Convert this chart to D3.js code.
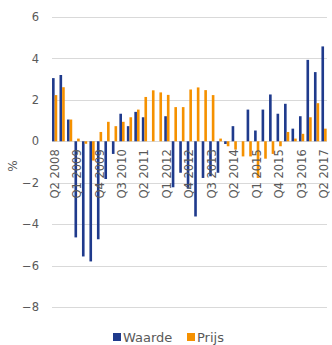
<!DOCTYPE html>
<html>
<head>
<meta charset="utf-8">
<script src="https://cdn.jsdelivr.net/npm/d3@7"></script>
<style>
  html, body { margin: 0; padding: 0; background: #fff; }
  svg { display: block; font-family: "DejaVu Sans", sans-serif; }
</style>
</head>
<body>
<svg id="chart" width="332" height="345"></svg>
<script>
// Quarterly change (%), Q2 2008 – Q2 2017
const quarters = [
  "Q2 2008","Q3 2008","Q4 2008","Q1 2009","Q2 2009","Q3 2009","Q4 2009",
  "Q1 2010","Q2 2010","Q3 2010","Q4 2010","Q1 2011","Q2 2011","Q3 2011",
  "Q4 2011","Q1 2012","Q2 2012","Q3 2012","Q4 2012","Q1 2013","Q2 2013",
  "Q3 2013","Q4 2013","Q1 2014","Q2 2014","Q3 2014","Q4 2014","Q1 2015",
  "Q2 2015","Q3 2015","Q4 2015","Q1 2016","Q2 2016","Q3 2016","Q4 2016",
  "Q1 2017","Q2 2017"
];
const waarde = [
  3.05, 3.2, 1.05, -4.64, -5.56, -5.8, -4.73,
  -1.82, -0.61, 1.33, 0.73, 1.42, 1.16, 0,
  0, 1.21, -2.22, -1.52, -2.29, -3.63, -1.77,
  -1.69, -1.52, -0.13, 0.73, 0, 1.53, 0.52,
  1.53, 2.26, 1.33, 1.81, 0.61, 1.21, 3.93,
  3.34, 4.58
];
const prijs = [
  2.23, 2.61, 1.05, 0.13, -0.12, -0.93, 0.45,
  0.94, 0.73, 0.94, 1.16, 1.53, 2.14, 2.46,
  2.36, 2.24, 1.65, 1.65, 2.5, 2.6, 2.47,
  2.23, 0.13, -0.24, -0.4, -0.73, -0.73, -1.77,
  -0.84, -0.61, -0.24, 0.45, 0.13, 0.36, 1.16,
  1.84, 0.61
];
const yTicks = [-8, -6, -4, -2, 0, 2, 4, 6];
const seriesNames = ["Waarde", "Prijs"];
const colors = { Waarde: "#1f3a8c", Prijs: "#f59100" };

const rows = quarters.map((q, i) => ({ q, Waarde: waarde[i], Prijs: prijs[i] }));

const svg = d3.select("#chart");
const gridLeft = 52, gridRight = 327;

const x = d3.scaleBand()
  .domain(quarters)
  .range([50.9, 327.8])
  .paddingInner(0.3)
  .paddingOuter(0.15);

const xs = d3.scaleBand()
  .domain(seriesNames)
  .range([0, x.bandwidth()]);

const y = d3.scaleLinear().domain([-8, 6]).range([307, 17]);

// horizontal gridlines
svg.append("g").selectAll("line")
  .data(yTicks)
  .join("line")
  .attr("x1", gridLeft).attr("x2", gridRight)
  .attr("y1", d => Math.round(y(d)) + 0.5)
  .attr("y2", d => Math.round(y(d)) + 0.5)
  .attr("stroke", "#d9d9d9")
  .attr("stroke-width", 1);

// y axis labels
const yAxis = d3.axisLeft(y).tickValues(yTicks).tickSize(0).tickPadding(0);
svg.append("g")
  .attr("transform", "translate(39,0)")
  .call(yAxis)
  .call(g => g.select(".domain").remove())
  .call(g => g.selectAll("text")
    .attr("font-size", 11.5)
    .attr("font-family", "DejaVu Sans, sans-serif")
    .attr("fill", "#595959"));

// y axis title
svg.append("text")
  .attr("transform", "translate(17,166) rotate(-90)")
  .attr("text-anchor", "middle")
  .attr("font-size", 12)
  .attr("fill", "#595959")
  .text("%");

// bars
const groups = svg.append("g").selectAll("g")
  .data(rows)
  .join("g")
  .attr("transform", d => `translate(${x(d.q)},0)`);

groups.selectAll("rect")
  .data(d => seriesNames.map(k => ({ k, v: d[k] })))
  .join("rect")
  .attr("x", d => xs(d.k))
  .attr("width", xs.bandwidth())
  .attr("y", d => y(Math.max(0, d.v)))
  .attr("height", d => Math.abs(y(d.v) - y(0)))
  .attr("fill", d => colors[d.k]);

// x axis labels, every third quarter
const xAxis = d3.axisBottom(x)
  .tickValues(quarters.filter((q, i) => i % 3 === 0))
  .tickSize(0)
  .tickPadding(0);
svg.append("g")
  .attr("transform", `translate(0,${y(0)})`)
  .call(xAxis)
  .call(g => g.select(".domain").remove())
  .call(g => g.selectAll("text")
    .attr("font-size", 11.5)
    .attr("font-family", "DejaVu Sans, sans-serif")
    .attr("fill", "#595959")
    .attr("text-anchor", "end")
    .attr("transform", "rotate(-90)")
    .attr("x", -8)
    .attr("y", 0)
    .attr("dy", "0.35em"));

// legend
const legend = svg.append("g").attr("transform", "translate(113,333)");
const legendX = { Waarde: 0, Prijs: 74 };
seriesNames.forEach(k => {
  const g = legend.append("g").attr("transform", `translate(${legendX[k]},0)`);
  g.append("rect").attr("width", 8).attr("height", 8).attr("fill", colors[k]);
  g.append("text")
    .attr("x", 10).attr("y", 8.5)
    .attr("font-size", 13)
    .attr("fill", "#595959")
    .text(k);
});
</script>
</body>
</html>
